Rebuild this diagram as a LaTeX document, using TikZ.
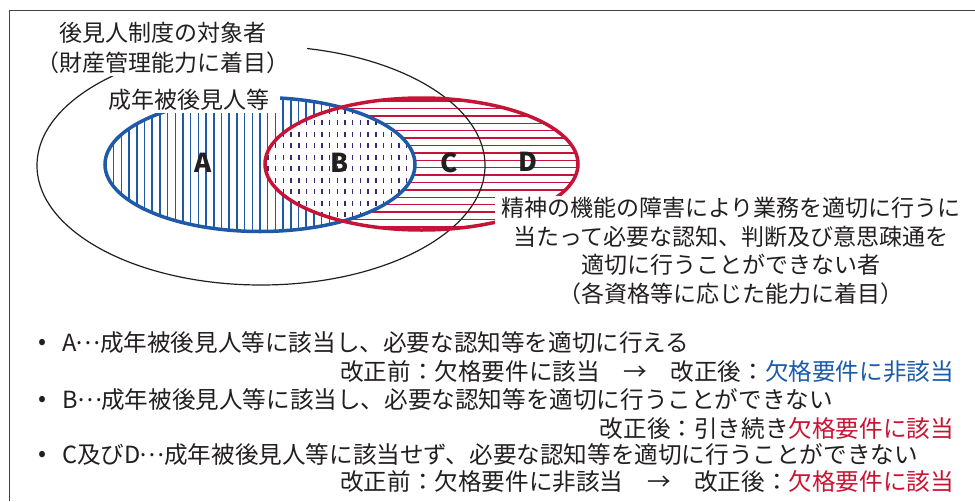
\documentclass[tikz,border=0pt]{standalone}
\usepackage{fontspec}
\setmainfont{Noto Sans CJK JP}
\definecolor{ink}{RGB}{35,31,32}
\definecolor{blueE}{RGB}{30,90,168}
\definecolor{redE}{RGB}{198,20,56}
\definecolor{dashc}{RGB}{60,40,110}
\definecolor{blueT}{RGB}{25,90,170}
\definecolor{redT}{RGB}{200,20,50}
\newcommand{\mdots}{\makebox[1em][c]{\raisebox{0.3em}{…}}}
\begin{document}
\begin{tikzpicture}[x=1pt,y=-1pt,
  txt/.style={font=\fontsize{23}{30}\selectfont, text=ink},
  blk/.style={font=\fontsize{23}{28.4}\selectfont, text=ink},
  bot/.style={font=\fontsize{23.6}{28}\selectfont, text=ink, inner sep=0pt},
  lab/.style={font=\fontsize{26}{26}\selectfont\bfseries, text=ink, inner sep=0pt},
  bhatch/.style={draw=blueE, line width=1.5pt},
  rhatch/.style={draw=redE, line width=1.4pt},
  dhatch/.style={draw=dashc, line width=1.4pt, dash pattern=on 5pt off 6.5pt},
  frameline/.style={draw=ink!85, line width=1.6pt}]
\useasboundingbox (0,0) rectangle (975,501);
\fill[white] (0,0) rectangle (975,501);
% frame
\draw[frameline] (9.5,501) -- (9.5,10.5) -- (975,10.5);
% blue hatching (region A)
\begin{scope}
  \clip (260,164.5) ellipse [x radius=155pt, y radius=67pt];
  \foreach \x in {106,113.7,...,416} \draw[bhatch] (\x,90) -- (\x,240);
\end{scope}
% red hatching (regions C, D)
\begin{scope}
  \clip (421.5,164) ellipse [x radius=156.5pt, y radius=66pt];
  \fill[white] (260,90) rectangle (590,240);
  \foreach \y in {101,108.4,...,231} \draw[rhatch] (260,\y) -- (590,\y);
\end{scope}
% dashed hatching (region B)
\begin{scope}
  \clip (260,164.5) ellipse [x radius=155pt, y radius=67pt];
  \clip (421.5,164) ellipse [x radius=156.5pt, y radius=66pt];
  \fill[white] (260,90) rectangle (420,240);
  \foreach \x in {268,275.7,...,416} \draw[dhatch] (\x,97) -- (\x,234);
\end{scope}
% outer ellipse
\draw[ink, line width=1.2pt] (261,165.5) ellipse [x radius=224pt, y radius=119.5pt];
% outlines
\draw[blueE, line width=3.5pt] (260,164.5) ellipse [x radius=155pt, y radius=67pt];
\draw[redE, line width=3.5pt] (421.5,164) ellipse [x radius=156.5pt, y radius=66pt];
% labels
\node[txt, fill=white, align=center, inner xsep=17pt, inner ysep=2pt] (title) at (163,48) {後見人制度の対象者\\（財産管理能力に着目）};
\node[txt, fill=white, inner xsep=10pt, inner ysep=2pt] (seinen) at (189,100) {成年被後見人等};
\node[blk, fill=white, align=center, inner xsep=6pt, inner ysep=2pt] (crit) at (731,251) {精神の機能の障害により業務を適切に行うに\\当たって必要な認知、判断及び意思疎通を\\適切に行うことができない者\\（各資格等に応じた能力に着目）};
\node[lab] (A) at (203,163) {A};
\node[lab] (B) at (340,163) {B};
\node[lab] (C) at (449,163) {C};
\node[lab] (D) at (528,162) {D};
% bottom text
\node[bot] (b1) at (43,344) {•};
\node[bot, anchor=west] (l1) at (62,343) {A\mdots 成年被後見人等に該当し、必要な認知等を適切に行える};
\node[bot, anchor=east] (l2) at (954,372) {改正前：欠格要件に該当　→　改正後：\textcolor{blueT}{欠格要件に非該当}};
\node[bot] (b2) at (43,401) {•};
\node[bot, anchor=west] (l3) at (62,400) {B\mdots 成年被後見人等に該当し、必要な認知等を適切に行うことができない};
\node[bot, anchor=east] (l4) at (954,428) {改正後：引き続き\textcolor{redT}{欠格要件に該当}};
\node[bot] (b3) at (43,456) {•};
\node[bot, anchor=west] (l5) at (62,455) {C及びD\mdots 成年被後見人等に該当せず、必要な認知等を適切に行うことができない};
\node[bot, anchor=east] (l6) at (954,482) {改正前：欠格要件に非該当　→　改正後：\textcolor{redT}{欠格要件に該当}};
\end{tikzpicture}
\end{document}
